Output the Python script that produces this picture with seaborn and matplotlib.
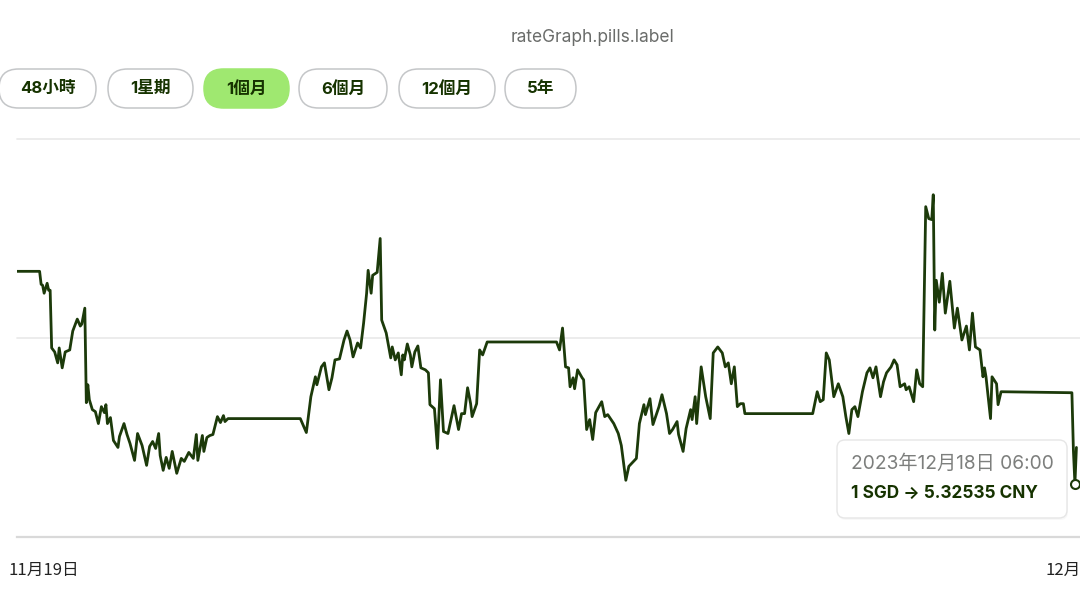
import matplotlib
matplotlib.use("Agg")
import matplotlib.pyplot as plt
import matplotlib.transforms as mtransforms
from matplotlib.patches import FancyBboxPatch
import seaborn as sns
import pandas as pd

# ---------------- data ----------------
# hours since 2023-11-19 00:00
hours = [0, 15, 16, 17, 18, 20, 21, 22, 23, 25, 27, 28, 30, 32, 35, 37, 40, 42, 43, 45,
         46, 47, 48, 50, 52, 54, 56, 58, 59, 60, 62, 64, 67, 68, 71, 73, 75, 78, 80, 83,
         86, 88, 90, 92, 94, 95, 97, 99, 101, 103, 106, 109, 111, 114, 117, 119, 120, 123, 124, 126,
         128, 130, 133, 135, 137, 138, 140, 188, 192, 195, 198, 199, 202, 204, 207, 209, 211, 214, 217, 219,
         221, 223, 226, 228, 230, 232, 233, 235, 236, 239, 241, 242, 245, 248, 249, 251, 253, 255, 256, 257,
         259, 261, 262, 264, 266, 268, 271, 273, 274, 277, 279, 281, 283, 286, 290, 293, 295, 297, 299, 301,
         302, 305, 307, 309, 312, 358, 360, 362, 364, 366, 367, 369, 370, 372, 375, 376, 378, 380, 382, 384,
         388, 390, 392, 396, 399, 401, 404, 406, 411, 413, 416, 417, 420, 422, 426, 428, 431, 433, 435, 438,
         439, 442, 444, 447, 448, 450, 451, 454, 457, 460, 462, 465, 468, 470, 472, 474, 476, 478, 480, 482,
         483, 528, 531, 533, 535, 537, 539, 542, 545, 548, 550, 552, 554, 556, 558, 561, 564, 566, 568, 570,
         573, 575, 577, 580, 582, 584, 586, 589, 590, 592, 595, 597, 599, 601, 603, 605, 607, 608, 609, 610,
         612, 614, 616, 619, 622, 624, 627, 630, 632, 634, 636, 639, 641, 642, 643, 646, 647, 650, 651, 653,
         700, 701, 702, 703]
rates = [5.3467, 5.3467, 5.3454, 5.3453, 5.3445, 5.3455, 5.3448, 5.3448, 5.3390, 5.3386, 5.3375, 5.3390, 5.3370, 5.3386, 5.3388, 5.3407, 5.3419, 5.3412, 5.3414, 5.3430,
         5.3335, 5.3353, 5.3338, 5.3328, 5.3326, 5.3314, 5.3331, 5.3325, 5.3333, 5.3314, 5.3320, 5.3297, 5.3290, 5.3301, 5.3314, 5.3303, 5.3294, 5.3277, 5.3304, 5.3292,
         5.3272, 5.3291, 5.3296, 5.3289, 5.3304, 5.3282, 5.3267, 5.3280, 5.3269, 5.3286, 5.3264, 5.3279, 5.3276, 5.3285, 5.3279, 5.3303, 5.3277, 5.3302, 5.3286, 5.3300,
         5.3302, 5.3303, 5.3321, 5.3315, 5.3322, 5.3316, 5.3319, 5.3319, 5.3305, 5.3341, 5.3361, 5.3353, 5.3371, 5.3375, 5.3348, 5.3360, 5.3378, 5.3379, 5.3398, 5.3407,
         5.3398, 5.3381, 5.3395, 5.3390, 5.3415, 5.3445, 5.3468, 5.3445, 5.3463, 5.3466, 5.3500, 5.3418, 5.3405, 5.3380, 5.3391, 5.3378, 5.3385, 5.3363, 5.3383, 5.3378,
         5.3394, 5.3383, 5.3371, 5.3386, 5.3392, 5.3370, 5.3368, 5.3365, 5.3333, 5.3329, 5.3289, 5.3358, 5.3306, 5.3304, 5.3332, 5.3308, 5.3324, 5.3324, 5.3350, 5.3334,
         5.3321, 5.3334, 5.3388, 5.3383, 5.3396, 5.3396, 5.3388, 5.3410, 5.3371, 5.3370, 5.3351, 5.3360, 5.3349, 5.3368, 5.3360, 5.3358, 5.3308, 5.3318, 5.3298, 5.3325,
         5.3336, 5.3321, 5.3323, 5.3314, 5.3304, 5.3292, 5.3257, 5.3271, 5.3279, 5.3314, 5.3333, 5.3323, 5.3339, 5.3313, 5.3331, 5.3343, 5.3324, 5.3304, 5.3308, 5.3316,
         5.3303, 5.3286, 5.3309, 5.3328, 5.3318, 5.3341, 5.3314, 5.3371, 5.3341, 5.3319, 5.3385, 5.3391, 5.3385, 5.3371, 5.3375, 5.3354, 5.3371, 5.3331, 5.3334, 5.3334,
         5.3324, 5.3324, 5.3346, 5.3336, 5.3338, 5.3385, 5.3378, 5.3341, 5.3354, 5.3341, 5.3321, 5.3304, 5.3328, 5.3331, 5.3321, 5.3346, 5.3365, 5.3370, 5.3360, 5.3371,
         5.3341, 5.3356, 5.3365, 5.3371, 5.3378, 5.3373, 5.3351, 5.3354, 5.3348, 5.3351, 5.3336, 5.3368, 5.3354, 5.3351, 5.3532, 5.3520, 5.3519, 5.3544, 5.3408, 5.3458,
         5.3436, 5.3465, 5.3425, 5.3457, 5.3410, 5.3430, 5.3398, 5.3412, 5.3388, 5.3425, 5.3391, 5.3388, 5.3361, 5.3370, 5.3361, 5.3319, 5.3361, 5.3354, 5.3333, 5.3346,
         5.3345, 5.3287, 5.32535, 5.3290]

pill_labels = ["48小時", "1星期", "1個月", "6個月", "12個月", "5年"]
active_pill = "1個月"
x_tick_hours = [0, 696]
x_tick_labels = ["11月19日", "12月18日"]
grid_values = [5.32, 5.34, 5.36]
title_text = "rateGraph.pills.label"
hover_index = 242
hover_label = "2023年12月18日 06:00"
base_ccy, quote_ccy = "SGD", "CNY"

# ---------------- style ----------------
FOREST = "#1c3a0a"
BRIGHT = "#9fe870"
W, H = 1080, 594

sns.set_theme(style="white")
plt.rcParams["font.family"] = ["Inter", "Noto Sans CJK TC", "DejaVu Sans"]

fig = plt.figure(figsize=(W / 100, H / 100), dpi=100)
fig.patch.set_facecolor("white")

# main chart axes: left edge at x=17px, bottom at y=537px, top at y=139px
ax = fig.add_axes([17 / W, 1 - 537 / H, (W - 17) / W, (537 - 139) / H])
df = pd.DataFrame({"hour": hours, "rate": rates})
sns.lineplot(data=df, x="hour", y="rate", ax=ax, color=FOREST, linewidth=2.0,
             estimator=None, sort=False)
for ln in ax.get_lines():
    ln.set_solid_joinstyle("round")
ax.set_xlim(0, (W - 17) / 1.507)
ax.set_ylim(grid_values[0], grid_values[-1])
ax.set_yticks(grid_values)
ax.set_yticklabels([])
ax.yaxis.grid(True, color="#ebebeb", linewidth=1.3)
ax.xaxis.grid(False)
for gl in ax.get_ygridlines():
    gl.set_clip_on(False)
ax.set_xlabel("")
ax.set_ylabel("")
for side in ["top", "left", "right"]:
    ax.spines[side].set_visible(False)
ax.spines["bottom"].set_color("#d9d9d9")
ax.spines["bottom"].set_linewidth(1.6)
ax.set_xticks(x_tick_hours)
ax.set_xticklabels(x_tick_labels, fontsize=12, color="#222222",
                   family=["Noto Sans CJK TC", "DejaVu Sans"])
ax.tick_params(axis="both", length=0)
ax.tick_params(axis="x", pad=18)
offsets = [-9, -20]
for lab, dx in zip(ax.get_xticklabels(), offsets):
    lab.set_horizontalalignment("left")
    lab.set_transform(lab.get_transform() +
                      mtransforms.ScaledTranslation(dx / 100, 0, fig.dpi_scale_trans))

# hover marker
ax.scatter([hours[hover_index]], [rates[hover_index]], s=42, facecolor="white",
           edgecolor=FOREST, linewidth=1.5, zorder=5, clip_on=False)

# ---------------- UI overlay (pixel coordinates) ----------------
ui = fig.add_axes([0, 0, 1, 1], zorder=10)
ui.set_xlim(0, W)
ui.set_ylim(H, 0)
ui.axis("off")
ui.patch.set_alpha(0)

ui.text(592, 37, title_text, ha="center", va="center", fontsize=12.5, color="#6a6c6a")

pill_spans = [(-1, 96), (108, 193), (204, 289), (299, 387), (399, 495), (505, 576)]
for lab, (x0, x1) in zip(pill_labels, pill_spans):
    active = lab == active_pill
    ui.add_patch(FancyBboxPatch((x0, 69), x1 - x0, 39,
                                boxstyle="round,pad=0,rounding_size=19.5",
                                facecolor=BRIGHT if active else "white",
                                edgecolor=BRIGHT if active else "#c4c6c8",
                                linewidth=1.1))
    ui.text((x0 + x1) / 2, 88.5, lab, ha="center", va="center", fontsize=12,
            fontweight="bold", color="#163300")

# tooltip
ui.add_patch(FancyBboxPatch((838, 442), 230, 78, boxstyle="round,pad=0,rounding_size=8",
                            facecolor="#f4f4f4", edgecolor="none", alpha=0.6))
ui.add_patch(FancyBboxPatch((837, 440), 230, 78, boxstyle="round,pad=0,rounding_size=8",
                            facecolor="white", edgecolor="#e6e6e6", linewidth=1.0))
ui.text(851, 464, hover_label, ha="left", va="center", fontsize=13.8, color="#7d7f7d")
ui.text(851, 493, f"1 {base_ccy} \u2192 {rates[hover_index]:.5f} {quote_ccy}",
        ha="left", va="center", fontsize=12.4, fontweight="bold", color="#163300")

fig.savefig("out.png", dpi=100)
